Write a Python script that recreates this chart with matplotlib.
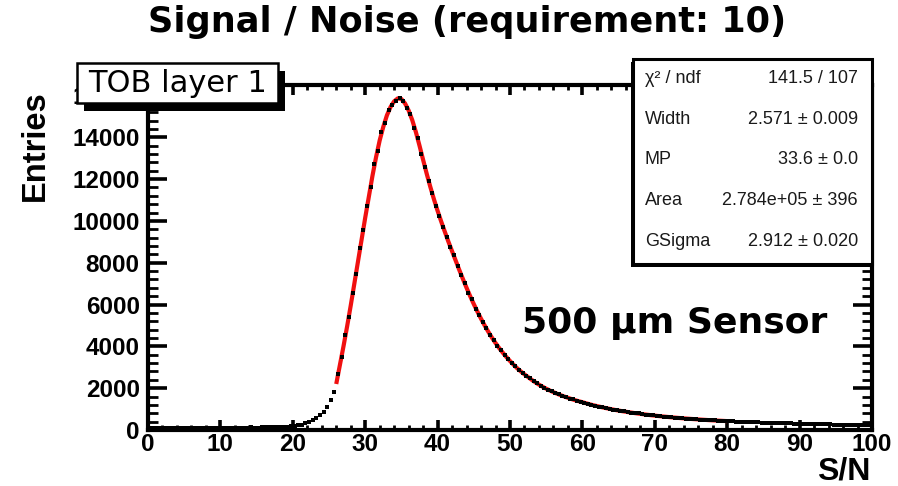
import numpy as np
import matplotlib
matplotlib.use('Agg')
import matplotlib.pyplot as plt
from matplotlib.patches import Rectangle
from matplotlib.ticker import MultipleLocator

# ---------------- data ----------------
bin_width = 0.5
# histogram contents, bins of width 0.5 from 0 to 100
counts = [
    90, 110, 95, 105, 100, 95, 110, 100, 105, 95,
    100, 105, 95, 110, 100, 105, 100, 95, 110, 105,
    105, 110, 100, 115, 105, 110, 115, 105, 120, 110,
    115, 120, 125, 120, 130, 135, 140, 150, 160, 175,
    190, 220, 260, 320, 395, 470, 570, 700, 880, 1120,
    1450, 1800, 2700, 3500, 4550, 5400, 6550, 7450, 8700, 9550,
    10700, 11600, 12700, 13350, 14250, 14700, 15300, 15550, 15750, 15900,
    15750, 15400, 15100, 14450, 13950, 13200, 12600, 11900, 11350, 10700,
    10250, 9700, 9250, 8750, 8350, 7850, 7400, 7050, 6550, 6250,
    5800, 5500, 5150, 4880, 4530, 4300, 4020, 3830, 3580, 3410,
    3200, 3050, 2860, 2740, 2580, 2470, 2330, 2240, 2110, 2030,
    1920, 1860, 1760, 1710, 1620, 1580, 1500, 1460, 1390, 1360,
    1300, 1260, 1200, 1170, 1120, 1090, 1040, 1020, 970, 950,
    910, 890, 855, 835, 805, 790, 755, 740, 715, 700,
    675, 665, 640, 630, 605, 595, 575, 565, 548, 540,
    520, 515, 498, 490, 475, 470, 455, 450, 436, 432,
    420, 414, 405, 398, 392, 384, 378, 372, 366, 358,
    352, 347, 340, 336, 330, 324, 320, 314, 309, 305,
    300, 295, 291, 286, 282, 278, 274, 270, 266, 262,
    258, 255, 251, 248, 244, 240, 238, 235, 232, 228,
]

# Landau (x) Gauss fit curve, sampled every 0.5 from 26 to 80
fit_start = 26.0
fit_values = [
    2200, 3100, 4000, 4950, 5950, 7000, 8050, 9100, 10150,
    11150, 12150, 13050, 13850, 14500, 15050, 15450, 15720, 15860, 15830,
    15620, 15280, 14820, 14250, 13600, 12920, 12250, 11620, 11030, 10480,
    9970, 9480, 9000, 8550, 8100, 7650, 7220, 6800, 6400, 6020,
    5660, 5320, 5000, 4700, 4420, 4160, 3920, 3700, 3490, 3300,
    3120, 2950, 2800, 2660, 2530, 2400, 2280, 2170, 2070, 1975,
    1890, 1810, 1735, 1665, 1600, 1540, 1480, 1425, 1375, 1330,
    1280, 1230, 1185, 1145, 1105, 1065, 1030, 995, 960, 930,
    900, 873, 846, 820, 795, 772, 750, 728, 707, 688,
    669, 651, 634, 617, 601, 586, 571, 557, 543, 530,
    518, 506, 494, 483, 472, 462, 452, 443, 434, 425,
]

x_ticks = [0, 10, 20, 30, 40, 50, 60, 70, 80, 90, 100]
y_ticks = [0, 2000, 4000, 6000, 8000, 10000, 12000, 14000, 16000]

stats_labels = ["χ² / ndf", "Width", "MP", "Area", "GSigma"]
stats_values = ["141.5 / 107", "2.571 ± 0.009", "33.6 ± 0.0",
                "2.784e+05 ± 396", "2.912 ± 0.020"]

title = "Signal / Noise (requirement: 10)"
tag_text = "TOB layer 1"
sensor_text = "500 μm Sensor"

# ---------------- figure ----------------
W, H = 898, 486
fig = plt.figure(figsize=(W / 100, H / 100), dpi=100)
fig.patch.set_facecolor('white')

def fx(px):
    return px / W

def fy(py):
    return 1 - py / H

ax_l, ax_r, ax_t, ax_b = 148, 872, 85, 430
ax = fig.add_axes([fx(ax_l), fy(ax_b), (ax_r - ax_l) / W, (ax_b - ax_t) / H])

centers = (np.arange(len(counts)) + 0.5) * bin_width
fit_x = fit_start + np.arange(len(fit_values)) * bin_width

ax.plot(fit_x, fit_values, color='#f01010', lw=3.0, zorder=3, solid_capstyle='butt')
ax.plot(centers, counts, ls='none', marker='s', ms=2.8, color='black',
        markeredgewidth=0, zorder=4)

ax.set_xlim(0, 100)
ax.set_ylim(0, 16500)
ax.set_xticks(x_ticks)
ax.set_yticks(y_ticks)
ax.xaxis.set_minor_locator(MultipleLocator(2))
ax.yaxis.set_minor_locator(MultipleLocator(400))

for sp in ax.spines.values():
    sp.set_linewidth(3)

ax.tick_params(axis='both', which='both', direction='in', top=True, right=True,
               color='black')
ax.tick_params(axis='y', which='major', length=14, width=2.6, pad=6)
ax.tick_params(axis='y', which='minor', length=7, width=2.0)
ax.tick_params(axis='x', which='major', length=7, width=2.6, pad=2)
ax.tick_params(axis='x', which='minor', length=3.5, width=2.0)

tick_font = dict(family='Liberation Sans', weight='bold', size=17.5)
for lab in ax.get_xticklabels() + ax.get_yticklabels():
    lab.set_fontproperties(matplotlib.font_manager.FontProperties(**tick_font))

# axis titles
fig.text(fx(35), fy(146), "Entries", rotation=90, ha='center', va='center',
         family='Liberation Sans', weight='bold', size=23.5)
fig.text(fx(870), fy(479), "S/N", ha='right', va='baseline',
         family='Liberation Sans', weight='bold', size=23)

# title
fig.text(fx(467), fy(32), title, ha='center', va='baseline',
         family='DejaVu Sans', weight='bold', size=25.3)

# sensor label
fig.text(fx(522), fy(333), sensor_text, ha='left', va='baseline',
         family='DejaVu Sans', weight='bold', size=26)

# TOB layer box with shadow
bx0, by0, bx1, by1 = 77, 63, 278, 103
fig.add_artist(Rectangle((fx(bx0 + 7), fy(by1 + 8)), (bx1 - bx0) / W, (by1 - by0) / H,
                         transform=fig.transFigure, facecolor='black',
                         edgecolor='none', zorder=5))
fig.add_artist(Rectangle((fx(bx0), fy(by1)), (bx1 - bx0) / W, (by1 - by0) / H,
                         transform=fig.transFigure, facecolor='white',
                         edgecolor='black', lw=1.8, zorder=6))
fig.text(fx((bx0 + bx1) / 2), fy((by0 + by1) / 2 + 1), tag_text, ha='center',
         va='center', family='DejaVu Sans', size=22, zorder=7)

# stats box
sx0, sy0, sx1, sy1 = 633, 59, 872, 264
fig.add_artist(Rectangle((fx(sx0 - 2), fy(sy1 + 3)), (sx1 - sx0) / W, (sy1 - sy0) / H,
                         transform=fig.transFigure, facecolor='black',
                         edgecolor='none', zorder=5))
fig.add_artist(Rectangle((fx(sx0), fy(sy1)), (sx1 - sx0) / W, (sy1 - sy0) / H,
                         transform=fig.transFigure, facecolor='white',
                         edgecolor='black', lw=2.2, zorder=6))
row_y = [78, 119, 159, 200, 241]
for lab, val, yy in zip(stats_labels, stats_values, row_y):
    fig.text(fx(645), fy(yy), lab, ha='left', va='center', color='#1a1a1a',
             family='Liberation Sans', size=13, zorder=7)
    fig.text(fx(858), fy(yy), val, ha='right', va='center', color='#1a1a1a',
             family='Liberation Sans', size=13, zorder=7)

fig.savefig('out.png', dpi=100)
